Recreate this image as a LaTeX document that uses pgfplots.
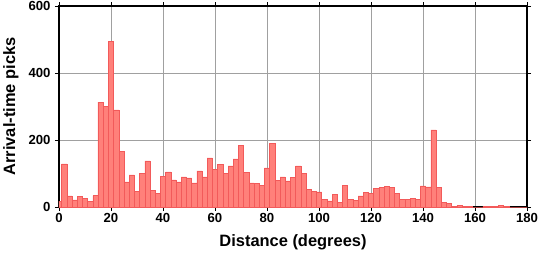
\documentclass[border=0pt]{standalone}
\usepackage{fontspec}
\setmainfont{Liberation Sans}
\usepackage{pgfplots}
\pgfplotsset{compat=1.18}
\definecolor{barfill}{RGB}{255,128,122}
\definecolor{baredge}{RGB}{242,90,90}
\definecolor{gridc}{RGB}{160,160,160}
\begin{document}
\begin{tikzpicture}
\begin{axis}[
  at={(0,0)}, anchor=south west,
  scale only axis,
  width=468bp, height=201bp,
  xmin=0, xmax=180, ymin=0, ymax=600,
  xtick={0,20,...,180}, ytick={0,200,400,600},
  grid=major,
  major grid style={gridc, line width=0.5pt},
  axis line style={line width=1.4pt},
  tick align=outside,
  major tick length=4bp,
  tick style={black, line width=0.9pt},
  /pgf/number format/assume math mode=true,
  tick label style={font=\fontsize{13.2}{15}\selectfont\bfseries},
  xticklabel style={yshift=1bp},
  yticklabel style={xshift=-1bp},
  xlabel={Distance (degrees)},
  ylabel={Arrival-time picks},
  label style={font=\fontsize{16.5}{18}\selectfont\bfseries},
  xlabel style={at={([yshift=-35bp]axis description cs:0.5,0)}, anchor=center},
  ylabel style={at={([xshift=-48bp]axis description cs:0,0.5)}, anchor=center},
]
\addplot[ybar interval, fill=barfill, draw=baredge, line width=0.5pt] coordinates {
(-1,17) (1,129) (3,33) (5,21) (7,31) (9,25) (11,16) (13,34) (15,313) (17,301)
(19,495) (21,290) (23,165) (25,75) (27,96) (29,46) (31,101) (33,138) (35,49) (37,41)
(39,92) (41,105) (43,81) (45,75) (47,90) (49,87) (51,72) (53,108) (55,90) (57,147)
(59,113) (61,127) (63,100) (65,123) (67,144) (69,185) (71,104) (73,72) (75,70) (77,64)
(79,117) (81,189) (83,80) (85,90) (87,78) (89,89) (91,123) (93,100) (95,52) (97,46)
(99,45) (101,22) (103,18) (105,37) (107,13) (109,64) (111,22) (113,19) (115,33) (117,43)
(119,40) (121,55) (123,58) (125,61) (127,58) (129,40) (131,22) (133,22) (135,25) (137,22)
(139,63) (141,60) (143,230) (145,59) (147,13) (149,10) (151,2) (153,4) (155,1) (157,2)
(159,0) (161,0) (163,2) (165,2) (167,2) (169,4) (171,2) (173,0) (175,0) (177,0)
(179,0) (181,0)
};
\end{axis}
\pgfresetboundingbox
\path[use as bounding box] (-59bp,-51bp) rectangle (480bp,207bp);
\end{tikzpicture}
\end{document}
